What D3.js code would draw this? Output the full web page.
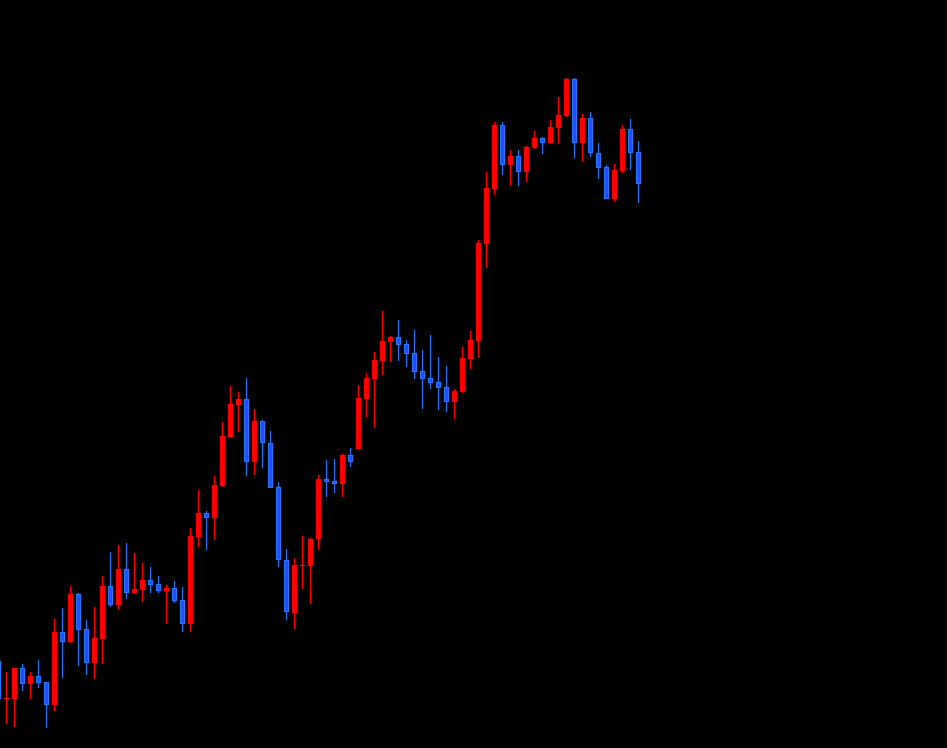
<!DOCTYPE html>
<html>
<head>
<meta charset="utf-8">
<script src="https://cdn.jsdelivr.net/npm/d3@7"></script>
<style>
html,body{margin:0;padding:0;background:#000;overflow:hidden;}
svg{display:block;}
</style>
</head>
<body>
<script>
// Price series (arbitrary price units), one entry per bar
const opens  = [87,50,49,80,64,72,66,43,116,106,154,119,85,109,162,143,179,155,158,168,164,157,160,148,124,211,235,230,262,311,343,349,286,327,305,261,188,135,183,182,209,269,267,264,293,299,349,369,387,406,411,404,395,377,370,366,361,346,356,389,407,504,559,623,583,592,576,600,610,605,620,632,669,605,630,595,581,549,577,619,596];
const highs  = [91,76,80,84,76,88,66,129,140,162,155,128,141,172,196,203,205,195,185,181,172,163,167,161,220,258,237,272,326,362,356,370,339,328,317,266,199,190,212,210,273,288,289,294,300,363,375,396,437,412,428,408,418,398,413,391,382,359,401,417,508,576,626,626,598,598,602,617,611,628,651,670,670,634,636,605,583,584,623,629,607];
const lows   = [49,24,21,57,49,60,20,37,70,105,82,73,69,84,141,138,149,154,146,155,155,124,145,116,116,201,198,208,261,310,316,272,273,280,260,181,128,119,159,144,198,251,255,251,281,299,331,320,373,386,387,381,369,339,359,338,336,329,355,379,390,480,553,573,562,562,566,599,594,604,604,631,590,586,591,569,549,546,575,578,545];
const closes = [49,50,80,64,72,65,43,116,106,154,118,85,110,162,143,179,155,159,168,163,157,160,147,124,212,235,230,263,312,344,349,286,327,305,260,188,136,183,183,209,269,266,264,293,286,350,370,388,407,411,403,394,376,369,365,360,346,357,390,408,505,560,623,583,592,576,601,610,605,621,633,669,605,630,595,580,549,578,619,595,564];
const bars = d3.range(opens.length).map(i => "B" + i);

const W = 947, H = 748;
const UP = "#ff0000", DOWN_FILL = "#3545ff", DOWN_LINE = "#1e7bff";

const data = bars.map((b, i) => ({b, o: opens[i], h: highs[i], l: lows[i], c: closes[i]}));

const svg = d3.select("body").append("svg").attr("width", W).attr("height", H);
svg.append("rect").attr("width", W).attr("height", H).attr("fill", "#000");

const x = d3.scaleBand().domain(bars).range([-5.5, -5.5 + bars.length * 8]).padding(0);
const y = d3.scaleLinear().domain([0, 748]).range([748, 0]);
const cx = d => Math.floor(x(d.b) + x.bandwidth() / 2) + 0.5;
const bw = 5;

const g = svg.append("g");
const c = g.selectAll("g.c").data(data).join("g").attr("class", "c");

// wicks
c.append("line")
  .attr("x1", cx).attr("x2", cx)
  .attr("y1", d => y(d.h)).attr("y2", d => y(d.l))
  .attr("stroke", d => d.c >= d.o ? UP : DOWN_LINE)
  .attr("stroke-width", 1)
  .attr("shape-rendering", "crispEdges");

// bodies
c.each(function(d) {
  const sel = d3.select(this);
  const left = cx(d) - 2.5;
  const top = y(Math.max(d.o, d.c)), bot = y(Math.min(d.o, d.c));
  if (d.c > d.o) {
    sel.append("rect").attr("x", left).attr("y", top)
      .attr("width", bw).attr("height", Math.max(1, bot - top))
      .attr("fill", UP).attr("shape-rendering", "crispEdges");
  } else if (d.c < d.o) {
    sel.append("rect").attr("x", left + 0.5).attr("y", top + 0.5)
      .attr("width", bw - 1).attr("height", Math.max(1, bot - top - 1))
      .attr("fill", DOWN_FILL).attr("stroke", DOWN_LINE).attr("stroke-width", 1)
      .attr("shape-rendering", "crispEdges");
  } else {
    sel.append("line").attr("x1", left).attr("x2", left + bw)
      .attr("y1", y(d.o) + 0.5).attr("y2", y(d.o) + 0.5)
      .attr("stroke", UP).attr("stroke-width", 1)
      .attr("shape-rendering", "crispEdges");
  }
});
</script>
</body>
</html>
